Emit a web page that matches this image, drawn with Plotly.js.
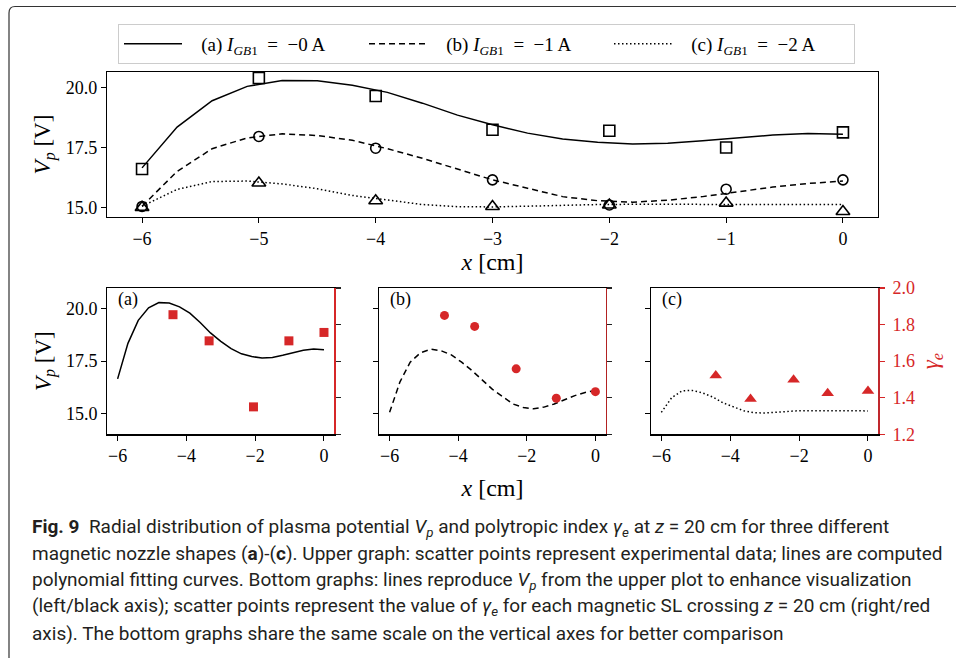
<!DOCTYPE html>
<html>
<head>
<meta charset="utf-8">
<script src="https://cdn.plot.ly/plotly-3.0.1.min.js"></script>
<style>
  html, body { margin: 0; padding: 0; background: #fff; }
  #chart { width: 956px; height: 658px; }
</style>
</head>
<body>
<div id="chart"></div>
<script>
// ---------------- data ----------------
const seriesNames = [
  "\u00a0\u00a0\u00a0(a) <i>I</i><sub><i>GB</i>1</sub>\u00a0 = \u00a0\u22120 A",
  "\u00a0\u00a0\u00a0(b) <i>I</i><sub><i>GB</i>1</sub>\u00a0 = \u00a0\u22121 A",
  "\u00a0\u00a0\u00a0(c) <i>I</i><sub><i>GB</i>1</sub>\u00a0 = \u00a0\u22122 A"
];
const panelLabels = ["(a)", "(b)", "(c)"];

// fitted polynomial curves (sampled)
const xFit = [-6.0, -5.7, -5.4, -5.1, -4.8, -4.5, -4.2, -3.9, -3.6, -3.3, -3.0,
              -2.7, -2.4, -2.1, -1.8, -1.5, -1.2, -0.9, -0.6, -0.3, 0.0];
const vpFitA = [16.65, 18.35, 19.45, 20.05, 20.30, 20.28, 20.10, 19.80, 19.35, 18.85, 18.45,
                18.10, 17.85, 17.72, 17.65, 17.68, 17.78, 17.90, 18.02, 18.08, 18.05];
const vpFitB = [15.05, 16.50, 17.45, 17.90, 18.07, 18.00, 17.80, 17.45, 17.05, 16.60, 16.15,
                15.80, 15.45, 15.28, 15.22, 15.30, 15.45, 15.65, 15.85, 16.00, 16.10];
const vpFitC = [15.05, 15.75, 16.08, 16.10, 15.98, 15.78, 15.50, 15.30, 15.12, 15.03, 15.02,
                15.05, 15.10, 15.12, 15.13, 15.13, 15.13, 15.13, 15.13, 15.13, 15.12];

// measured plasma potential
const xMeas = [-6, -5, -4, -3, -2, -1, 0];
const vpMeasA = [16.60, 20.40, 19.65, 18.24, 18.20, 17.50, 18.13];
const vpMeasB = [15.04, 17.96, 17.47, 16.15, 15.10, 15.76, 16.15];
const vpMeasC = [15.00, 16.02, 15.28, 15.04, 15.10, 15.18, 14.83];

// polytropic index gamma_e
const xGammaA = [-4.39, -3.34, -2.05, -1.02, 0.0];
const gammaA  = [1.854, 1.711, 1.350, 1.711, 1.757];
const xGammaB = [-4.40, -3.52, -2.31, -1.14, 0.0];
const gammaB  = [1.850, 1.790, 1.558, 1.397, 1.433];
const xGammaC = [-4.42, -3.41, -2.16, -1.17, 0.0];
const gammaC  = [1.521, 1.393, 1.498, 1.425, 1.437];

const captionLines = [
  "<b>Fig. 9</b>  Radial distribution of plasma potential <i>V<sub>p</sub></i> and polytropic index <i>\u03b3<sub>e</sub></i> at <i>z</i> = 20 cm for three different",
  "magnetic nozzle shapes (<b>a</b>)-(<b>c</b>). Upper graph: scatter points represent experimental data; lines are computed",
  "polynomial fitting curves. Bottom graphs: lines reproduce <i>V<sub>p</sub></i> from the upper plot to enhance visualization",
  "(left/black axis); scatter points represent the value of <i>\u03b3<sub>e</sub></i> for each magnetic SL crossing <i>z</i> = 20 cm (right/red",
  "axis). The bottom graphs share the same scale on the vertical axes for better comparison"
];

// ---------------- styling ----------------
const SERIF = "Liberation Serif, DejaVu Serif, serif";
const CAPFONT = "Roboto, Liberation Sans, sans-serif";
const RED = "#d62728";
const W = 956, H = 658;
const px = v => v / W;
const py = v => 1 - v / H;

const lineStyles = [
  {color: "#000", width: 1.5, dash: "solid"},
  {color: "#000", width: 1.5, dash: "6px,4px"},
  {color: "#000", width: 1.5, dash: "1.5px,2.5px"}
];
const openSymbols = ["square-open", "circle-open", "triangle-up-open"];
const openSizes = [11, 10, 12];
const fillSymbols = ["square", "circle", "triangle-up"];
const fillSizes = [9, 9, 11];
const fits = [vpFitA, vpFitB, vpFitC];
const meas = [vpMeasA, vpMeasB, vpMeasC];
const gx = [xGammaA, xGammaB, xGammaC];
const gy = [gammaA, gammaB, gammaC];

const traces = [];
// top plot lines (legend)
for (let i = 0; i < 3; i++) {
  traces.push({x: xFit, y: fits[i], mode: "lines", name: seriesNames[i],
    line: lineStyles[i], xaxis: "x", yaxis: "y", hoverinfo: "skip"});
}
// top plot markers
for (let i = 0; i < 3; i++) {
  traces.push({x: xMeas, y: meas[i], mode: "markers", showlegend: false,
    marker: {symbol: openSymbols[i], size: openSizes[i], color: "#000", line: {width: 1.6, color: "#000"}},
    xaxis: "x", yaxis: "y", cliponaxis: false});
}
// bottom panels
for (let i = 0; i < 3; i++) {
  traces.push({x: xFit, y: fits[i], mode: "lines", showlegend: false,
    line: lineStyles[i], xaxis: "x" + (i + 2), yaxis: "y" + (i + 2)});
  traces.push({x: gx[i], y: gy[i], mode: "markers", showlegend: false,
    marker: {symbol: fillSymbols[i], size: fillSizes[i], color: RED},
    xaxis: "x" + (i + 2), yaxis: "y" + (i + 5), cliponaxis: false});
}

const tickFont = {family: SERIF, size: 18, color: "#000"};
function xAx(domain, anchor, dtick, extra) {
  return Object.assign({domain: domain, anchor: anchor, range: [-6.3, 0.3], dtick: dtick, tick0: 0,
    showgrid: false, zeroline: false, showline: true, linecolor: "#000", linewidth: 1.2,
    mirror: true, ticks: "outside", ticklen: 5, tickwidth: 1, tickcolor: "#000",
    tickfont: tickFont}, extra || {});
}
function yAx(domain, anchor, range, extra) {
  return Object.assign({domain: domain, anchor: anchor, range: range,
    tickvals: [15, 17.5, 20], tickformat: ".1f",
    showgrid: false, zeroline: false, showline: true, linecolor: "#000", linewidth: 1.2,
    ticks: "outside", ticklen: 5, tickwidth: 1, tickcolor: "#000",
    tickfont: tickFont}, extra || {});
}
function gAx(overlay, anchor, showLabels, lineColor, tickColor, extra) {
  return Object.assign({overlaying: overlay, anchor: anchor, side: "right", range: [1.2, 2.0],
    dtick: 0.2, tick0: 1.2, tickformat: ".1f", showticklabels: showLabels,
    showgrid: false, zeroline: false, showline: true, linecolor: lineColor, linewidth: 1.5,
    ticks: "outside", ticklen: 5, tickwidth: 1.2, tickcolor: tickColor, ticklabelstandoff: 4,
    tickfont: {family: SERIF, size: 18, color: RED}}, extra || {});
}

const yTitle = {text: "<i>V</i><sub><i>p</i></sub> [V]", font: {family: SERIF, size: 23, color: "#000"}, standoff: 8};
const xTitleTop = {text: "<i>x</i> [cm]", font: {family: SERIF, size: 24, color: "#000"}, standoff: 3};
const xTitleBot = {text: "<i>x</i> [cm]", font: {family: SERIF, size: 24, color: "#000"}, standoff: 14};

const topY = [py(217), py(72)];
const botY = [py(434.3), py(288)];

const layout = {
  width: W, height: H, autosize: false,
  margin: {l: 0, r: 0, t: 0, b: 0, pad: 0},
  paper_bgcolor: "#fff", plot_bgcolor: "#fff",
  showlegend: true,
  legend: {orientation: "h", x: px(118), xanchor: "left", y: py(24), yanchor: "top",
    font: {family: SERIF, size: 19, color: "#000"}, bordercolor: "#cccccc", borderwidth: 1,
    bgcolor: "#fff", itemwidth: 58, entrywidth: 172, entrywidthmode: "pixels", tracegroupgap: 0},
  xaxis: xAx([px(107), px(878)], "y", 1, {title: xTitleTop}),
  yaxis: yAx(topY, "x", [14.6, 20.65], {mirror: true, title: yTitle}),
  xaxis2: xAx([px(107.3), px(334.3)], "y2", 2),
  yaxis2: yAx(botY, "x2", [14.0, 21.0], {title: yTitle}),
  xaxis3: xAx([px(379.3), px(605.7)], "y3", 2, {title: xTitleBot}),
  yaxis3: yAx(botY, "x3", [14.0, 21.0], {showticklabels: false}),
  xaxis4: xAx([px(651), px(878.3)], "y4", 2),
  yaxis4: yAx(botY, "x4", [14.0, 21.0], {showticklabels: false}),
  yaxis5: gAx("y2", "x2", false, RED, "#222"),
  yaxis6: gAx("y3", "x3", false, "#b22222", "#222"),
  yaxis7: gAx("y4", "x4", true, "#c0282d", RED,
    {title: {text: "<i>\u03b3</i><sub><i>e</i></sub>", font: {family: SERIF, size: 23, color: RED}, standoff: 8}}),
  annotations: [],
  shapes: [{type: "path", xref: "paper", yref: "paper",
    path: "M " + px(9) + "," + py(700) + " L " + px(9) + "," + py(13) +
          " Q " + px(9) + "," + py(6.5) + " " + px(15) + "," + py(6.5) + " L " + px(1000) + "," + py(6.5),
    line: {color: "#333", width: 1.2}}]
};

for (let i = 0; i < 3; i++) {
  layout.annotations.push({text: panelLabels[i], xref: "x" + (i + 2) + " domain", yref: "y" + (i + 2) + " domain",
    x: 0.04, y: 0.92, xanchor: "left", yanchor: "middle", showarrow: false,
    font: {family: SERIF, size: 18, color: "#000"}});
}
const capY = [527, 553.5, 580, 606.5, 633];
for (let i = 0; i < captionLines.length; i++) {
  layout.annotations.push({text: captionLines[i], xref: "paper", yref: "paper",
    x: px(30), y: py(capY[i]), xanchor: "left", yanchor: "middle", showarrow: false, align: "left",
    font: {family: CAPFONT, size: 19, color: "#231f20"}});
}

Plotly.newPlot("chart", traces, layout, {displayModeBar: false, staticPlot: true});
</script>
</body>
</html>
